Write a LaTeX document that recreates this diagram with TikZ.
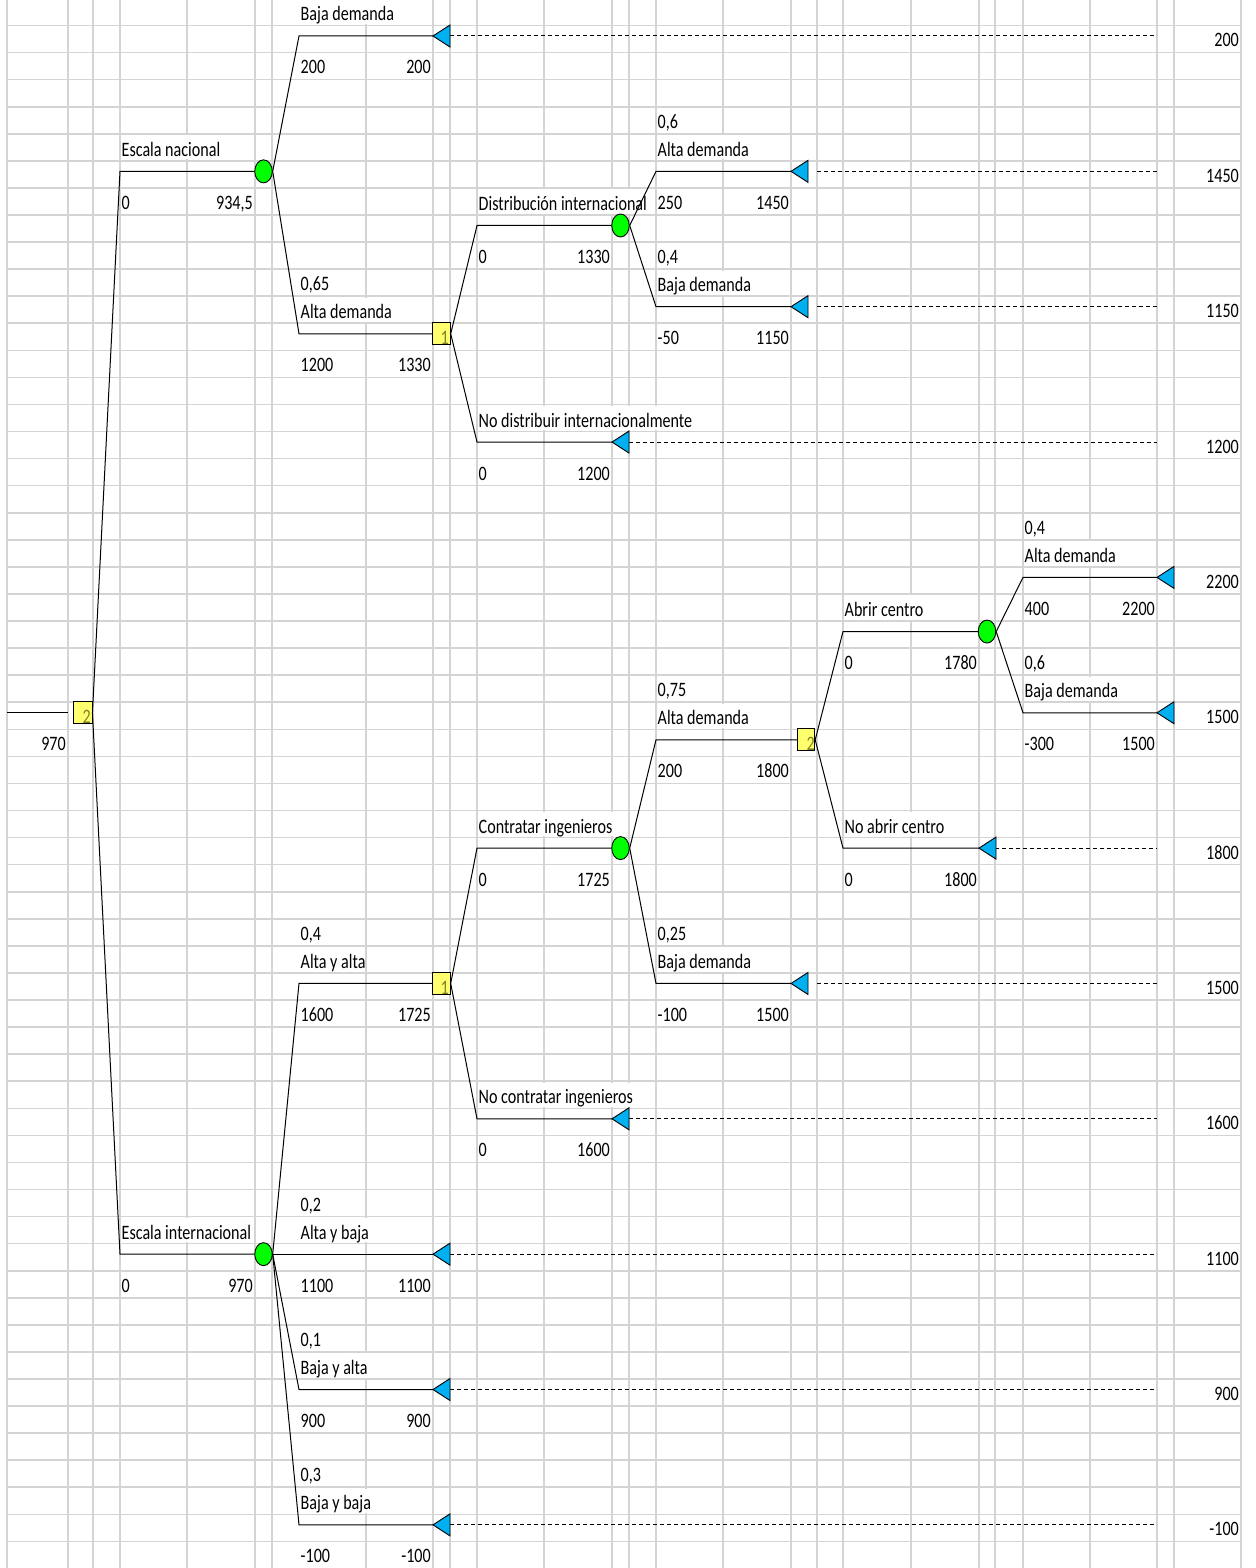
\documentclass[tikz,border=0pt]{standalone}
\usepackage{fontspec}
\setmainfont{Carlito}
\usepackage{graphicx}
\usetikzlibrary{shapes.geometric}
\definecolor{gridc}{RGB}{212,212,212}
\definecolor{chancefill}{RGB}{0,255,0}
\definecolor{decfill}{RGB}{255,255,110}
\definecolor{decnum}{RGB}{128,128,40}
\definecolor{termfill}{RGB}{0,176,240}
\newcommand\tx[1]{\scalebox{0.785}[1]{#1}}
\newcommand\hidegl[2]{\fill[white] ({#1-1.9},{25.5+27.07*(#2)+1.4}) rectangle ({#1+1.9},{25.5+27.07*(#2+1)-1.4});}
\begin{document}
\begin{tikzpicture}[x=1pt,y=-1pt,
  gridl/.style={draw=gridc,line width=1.6pt},
  br/.style={draw=black,line width=1pt},
  dsh/.style={draw=black,line width=1pt,dash pattern=on 4pt off 3pt},
  chance/.style={ellipse,draw=black,line width=0.9pt,fill=chancefill,minimum width=17.5pt,minimum height=23pt,inner sep=0pt},
  dec/.style={rectangle,draw=black,line width=0.9pt,fill=decfill,minimum width=17.5pt,minimum height=22pt,inner sep=0pt},
  term/.style={draw=black,line width=0.9pt,fill=termfill},
  lab/.style={anchor=base west,inner sep=0pt,font=\fontsize{20.5}{24}\selectfont},
  rlab/.style={anchor=base east,inner sep=0pt,font=\fontsize{20.5}{24}\selectfont},
  dnum/.style={rlab,text=decnum}]
\fill[white] (0,0) rectangle (1255,1568);
\useasboundingbox (0,0) rectangle (1255,1568);
% grid
\foreach \x in {7,68,93,120,187,255,272,366,433,450,477,544,612,629,656,723,791,817,843,911,979,995,1023,1090,1157,1174,1241}
  \draw[gridl] (\x,0) -- (\x,1568);
\foreach \j in {0,...,56}
  \draw[gridl] (7,{25.5+27.07*\j}) -- (1241,{25.5+27.07*\j});
% gridlines hidden by overflowing text
\hidegl{366}{-1}
\hidegl{187}{4}
\hidegl{366}{10}
\foreach \x in {544,612,629} {\hidegl{\x}{6}}
\foreach \x in {544,612,629,656} {\hidegl{\x}{14}}
\hidegl{723}{4}
\hidegl{723}{9}
\hidegl{1090}{19}
\hidegl{911}{21}
\hidegl{1090}{24}
\hidegl{723}{25}
\hidegl{544}{29}
\hidegl{612}{29}
\hidegl{911}{29}
\hidegl{723}{34}
\foreach \x in {544,612,629} {\hidegl{\x}{39}}
\hidegl{187}{44}
\hidegl{366}{44}
\hidegl{366}{49}
\hidegl{366}{54}

% decision and chance nodes
\node[dec,minimum width=19pt] (D0) at (82.5,712.75) {};
\node[chance] (C1) at (263.5,171.35) {};
\node[chance] (C2) at (263.5,1254.15) {};
\node[dec] (D1) at (441.5,333.77) {};
\node[dec] (D2) at (441.5,983.45) {};
\node[chance] (C3) at (620.5,225.49) {};
\node[chance] (C4) at (620.5,848.1) {};
\node[dec] (D3) at (806,739.82) {};
\node[chance] (C5) at (987,631.54) {};

% branch starts
\coordinate (r0) at (7,712.75);
\coordinate (r1) at (68,712.75);
\coordinate (bEN) at (120,171.35);
\coordinate (bEI) at (120,1254.15);
\coordinate (bBD1) at (299,36);
\coordinate (bAD1) at (299,333.77);
\coordinate (bDI) at (477,225.49);
\coordinate (bND) at (477,442.05);
\coordinate (bAD2) at (656,171.35);
\coordinate (bBD2) at (656,306.7);
\coordinate (bAA) at (299,983.45);
\coordinate (bAB) at (299,1254.15);
\coordinate (bBA) at (299,1389.5);
\coordinate (bBB) at (299,1524.85);
\coordinate (bCI) at (477,848.1);
\coordinate (bNC) at (477,1118.8);
\coordinate (bAD3) at (656,739.82);
\coordinate (bBD3) at (656,983.45);
\coordinate (bAC) at (843,631.54);
\coordinate (bNA) at (843,848.1);
\coordinate (bAD4) at (1023,577.4);
\coordinate (bBD4) at (1023,712.75);
% terminal apexes
\coordinate (tBD1) at (433,36);
\coordinate (tND) at (612,442.05);
\coordinate (tAD2) at (791,171.35);
\coordinate (tBD2) at (791,306.7);
\coordinate (tAB) at (433,1254.15);
\coordinate (tBA) at (433,1389.5);
\coordinate (tBB) at (433,1524.85);
\coordinate (tNC) at (612,1118.8);
\coordinate (tBD3) at (791,983.45);
\coordinate (tNA) at (979,848.1);
\coordinate (tAD4) at (1157,577.4);
\coordinate (tBD4) at (1157,712.75);
% dashed line ends
\coordinate (sBD1) at (450,36);      \coordinate (eBD1) at (1157,36);
\coordinate (sND) at (629,442.05);   \coordinate (eND) at (1157,442.05);
\coordinate (sAD2) at (817,171.35);  \coordinate (eAD2) at (1157,171.35);
\coordinate (sBD2) at (817,306.7);   \coordinate (eBD2) at (1157,306.7);
\coordinate (sAB) at (450,1254.15);  \coordinate (eAB) at (1157,1254.15);
\coordinate (sBA) at (450,1389.5);   \coordinate (eBA) at (1157,1389.5);
\coordinate (sBB) at (450,1524.85);  \coordinate (eBB) at (1157,1524.85);
\coordinate (sNC) at (629,1118.8);   \coordinate (eNC) at (1157,1118.8);
\coordinate (sBD3) at (817,983.45);  \coordinate (eBD3) at (1157,983.45);
\coordinate (sNA) at (995,848.1);    \coordinate (eNA) at (1157,848.1);

% branches
\draw[br] (r0) -- (r1);
\draw[br] (D0.east) -- (bEN) -- (C1.west);
\draw[br] (D0.east) -- (bEI) -- (C2.west);
\draw[br] (C1.east) -- (bBD1) -- (tBD1);
\draw[br] (C1.east) -- (bAD1) -- (D1.west);
\draw[br] (D1.east) -- (bDI) -- (C3.west);
\draw[br] (D1.east) -- (bND) -- (tND);
\draw[br] (C3.east) -- (bAD2) -- (tAD2);
\draw[br] (C3.east) -- (bBD2) -- (tBD2);
\draw[br] (C2.east) -- (bAA) -- (D2.west);
\draw[br] (C2.east) -- (bAB) -- (tAB);
\draw[br] (C2.east) -- (bBA) -- (tBA);
\draw[br] (C2.east) -- (bBB) -- (tBB);
\draw[br] (D2.east) -- (bCI) -- (C4.west);
\draw[br] (D2.east) -- (bNC) -- (tNC);
\draw[br] (C4.east) -- (bAD3) -- (D3.west);
\draw[br] (C4.east) -- (bBD3) -- (tBD3);
\draw[br] (D3.east) -- (bAC) -- (C5.west);
\draw[br] (D3.east) -- (bNA) -- (tNA);
\draw[br] (C5.east) -- (bAD4) -- (tAD4);
\draw[br] (C5.east) -- (bBD4) -- (tBD4);
% dashed links
\foreach \n in {BD1,ND,AD2,BD2,AB,BA,BB,NC,BD3,NA}
  \draw[dsh] (s\n) -- (e\n);
% terminal triangles
\foreach \n in {BD1,ND,AD2,BD2,AB,BA,BB,NC,BD3,NA,AD4,BD4}
  \draw[term] (t\n) -- ++(17,-11) -- ++(0,22) -- cycle;

% texts
\node[rlab] (v0) at (66,750.75) {\tx{970}};
\node[dnum] (q0) at (91,723.2) {\tx{2}};

\node[lab] (l1) at (121.5,156.35) {\tx{Escala nacional}};
\node[lab] (v1a) at (121.5,209.35) {\tx{0}};
\node[rlab] (v1b) at (253,209.35) {\tx{934,5}};

\node[lab] (l2) at (121.5,1239.15) {\tx{Escala internacional}};
\node[lab] (v2a) at (121.5,1292.15) {\tx{0}};
\node[rlab] (v2b) at (253,1292.15) {\tx{970}};

\node[lab] (l3) at (300.5,21) {\tx{Baja demanda}};
\node[lab] (v3a) at (300.5,74) {\tx{200}};
\node[rlab] (v3b) at (431,74) {\tx{200}};
\node[rlab] (t3) at (1239,47) {\tx{200}};

\node[lab] (p4) at (300.5,290.77) {\tx{0,65}};
\node[lab] (l4) at (300.5,318.77) {\tx{Alta demanda}};
\node[lab] (v4a) at (300.5,371.77) {\tx{1200}};
\node[rlab] (v4b) at (431,371.77) {\tx{1330}};
\node[dnum] (q4) at (449,344.3) {\tx{1}};

\node[lab] (l5) at (478.5,210.49) {\tx{Distribución internacional}};
\node[lab] (v5a) at (478.5,263.49) {\tx{0}};
\node[rlab] (v5b) at (610,263.49) {\tx{1330}};

\node[lab] (l6) at (478.5,427.05) {\tx{No distribuir internacionalmente}};
\node[lab] (v6a) at (478.5,480.05) {\tx{0}};
\node[rlab] (v6b) at (610,480.05) {\tx{1200}};
\node[rlab] (t6) at (1239,453.05) {\tx{1200}};

\node[lab] (p7) at (657.5,128.35) {\tx{0,6}};
\node[lab] (l7) at (657.5,156.35) {\tx{Alta demanda}};
\node[lab] (v7a) at (657.5,209.35) {\tx{250}};
\node[rlab] (v7b) at (789,209.35) {\tx{1450}};
\node[rlab] (t7) at (1239,182.35) {\tx{1450}};

\node[lab] (p8) at (657.5,263.7) {\tx{0,4}};
\node[lab] (l8) at (657.5,291.7) {\tx{Baja demanda}};
\node[lab] (v8a) at (657.5,344.7) {\tx{-50}};
\node[rlab] (v8b) at (789,344.7) {\tx{1150}};
\node[rlab] (t8) at (1239,317.7) {\tx{1150}};

\node[lab] (p9) at (300.5,940.45) {\tx{0,4}};
\node[lab] (l9) at (300.5,968.45) {\tx{Alta y alta}};
\node[lab] (v9a) at (300.5,1021.45) {\tx{1600}};
\node[rlab] (v9b) at (431,1021.45) {\tx{1725}};
\node[dnum] (q9) at (449,994) {\tx{1}};

\node[lab] (p10) at (300.5,1211.15) {\tx{0,2}};
\node[lab] (l10) at (300.5,1239.15) {\tx{Alta y baja}};
\node[lab] (v10a) at (300.5,1292.15) {\tx{1100}};
\node[rlab] (v10b) at (431,1292.15) {\tx{1100}};
\node[rlab] (t10) at (1239,1265.15) {\tx{1100}};

\node[lab] (p11) at (300.5,1346.5) {\tx{0,1}};
\node[lab] (l11) at (300.5,1374.5) {\tx{Baja y alta}};
\node[lab] (v11a) at (300.5,1427.5) {\tx{900}};
\node[rlab] (v11b) at (431,1427.5) {\tx{900}};
\node[rlab] (t11) at (1239,1400.5) {\tx{900}};

\node[lab] (p12) at (300.5,1481.85) {\tx{0,3}};
\node[lab] (l12) at (300.5,1509.85) {\tx{Baja y baja}};
\node[lab] (v12a) at (300.5,1562.85) {\tx{-100}};
\node[rlab] (v12b) at (431,1562.85) {\tx{-100}};
\node[rlab] (t12) at (1239,1535.85) {\tx{-100}};

\node[lab] (l13) at (478.5,833.1) {\tx{Contratar ingenieros}};
\node[lab] (v13a) at (478.5,886.1) {\tx{0}};
\node[rlab] (v13b) at (610,886.1) {\tx{1725}};

\node[lab] (l14) at (478.5,1103.8) {\tx{No contratar ingenieros}};
\node[lab] (v14a) at (478.5,1156.8) {\tx{0}};
\node[rlab] (v14b) at (610,1156.8) {\tx{1600}};
\node[rlab] (t14) at (1239,1129.8) {\tx{1600}};

\node[lab] (p15) at (657.5,696.82) {\tx{0,75}};
\node[lab] (l15) at (657.5,724.82) {\tx{Alta demanda}};
\node[lab] (v15a) at (657.5,777.82) {\tx{200}};
\node[rlab] (v15b) at (789,777.82) {\tx{1800}};
\node[dnum] (q15) at (815,750.3) {\tx{2}};

\node[lab] (p16) at (657.5,940.45) {\tx{0,25}};
\node[lab] (l16) at (657.5,968.45) {\tx{Baja demanda}};
\node[lab] (v16a) at (657.5,1021.45) {\tx{-100}};
\node[rlab] (v16b) at (789,1021.45) {\tx{1500}};
\node[rlab] (t16) at (1239,994.45) {\tx{1500}};

\node[lab] (l17) at (844.5,616.54) {\tx{Abrir centro}};
\node[lab] (v17a) at (844.5,669.54) {\tx{0}};
\node[rlab] (v17b) at (977,669.54) {\tx{1780}};

\node[lab] (l18) at (844.5,833.1) {\tx{No abrir centro}};
\node[lab] (v18a) at (844.5,886.1) {\tx{0}};
\node[rlab] (v18b) at (977,886.1) {\tx{1800}};
\node[rlab] (t18) at (1239,859.1) {\tx{1800}};

\node[lab] (p19) at (1024.5,534.4) {\tx{0,4}};
\node[lab] (l19) at (1024.5,562.4) {\tx{Alta demanda}};
\node[lab] (v19a) at (1024.5,615.4) {\tx{400}};
\node[rlab] (v19b) at (1155,615.4) {\tx{2200}};
\node[rlab] (t19) at (1239,588.4) {\tx{2200}};

\node[lab] (p20) at (1024.5,669.75) {\tx{0,6}};
\node[lab] (l20) at (1024.5,697.75) {\tx{Baja demanda}};
\node[lab] (v20a) at (1024.5,750.75) {\tx{-300}};
\node[rlab] (v20b) at (1155,750.75) {\tx{1500}};
\node[rlab] (t20) at (1239,723.75) {\tx{1500}};
\end{tikzpicture}
\end{document}
